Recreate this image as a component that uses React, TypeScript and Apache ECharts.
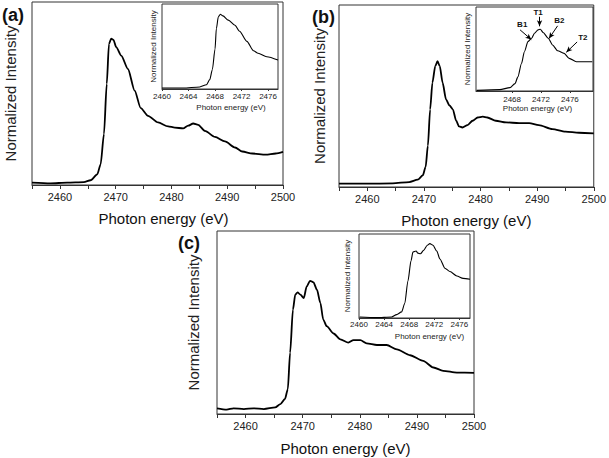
import React, { useEffect, useRef } from "react";
import * as echarts from "echarts";

// ---- Panel (a) main ----
const aMainE = [2455, 2458.3, 2461.3, 2464.3, 2465.5, 2466.7, 2467.3, 2467.9, 2468.4, 2468.8, 2469.2, 2469.6, 2470.1, 2471.0, 2472.2, 2473.4, 2474.5, 2475.8, 2477.6, 2479.4, 2480.6, 2482.1, 2483.0, 2483.9, 2484.8, 2486.0, 2487.8, 2489.6, 2491.4, 2492.7, 2494.5, 2496.9, 2498.7, 2500];
const aMainI = [0.013, 0.009, 0.013, 0.016, 0.026, 0.058, 0.113, 0.278, 0.552, 0.771, 0.8, 0.793, 0.753, 0.707, 0.634, 0.516, 0.42, 0.378, 0.342, 0.32, 0.314, 0.309, 0.324, 0.336, 0.329, 0.296, 0.263, 0.238, 0.205, 0.183, 0.172, 0.166, 0.172, 0.181];
// ---- Panel (a) inset ----
const aInsE = [2460, 2463.2, 2465.7, 2466.7, 2467.2, 2467.6, 2468.0, 2468.2, 2468.5, 2468.8, 2469.2, 2470.0, 2471.0, 2471.7, 2472.8, 2473.8, 2474.5, 2475.8, 2477.5];
const aInsI = [0.012, 0.012, 0.024, 0.05, 0.11, 0.23, 0.47, 0.71, 0.85, 0.88, 0.86, 0.81, 0.75, 0.68, 0.56, 0.45, 0.42, 0.38, 0.34];

// ---- Panel (b) main ----
const bMainE = [2455, 2459.8, 2464.5, 2467.4, 2468.9, 2469.8, 2470.3, 2470.7, 2471.1, 2471.5, 2472.0, 2472.4, 2472.8, 2473.3, 2473.9, 2474.5, 2475.1, 2475.7, 2476.2, 2476.8, 2477.7, 2478.6, 2479.5, 2480.4, 2481.2, 2482.7, 2484.5, 2486.8, 2488.6, 2490.3, 2492.7, 2495.0, 2497.4, 2500];
const bMainI = [0.018, 0.018, 0.02, 0.027, 0.04, 0.064, 0.11, 0.227, 0.427, 0.573, 0.664, 0.691, 0.664, 0.573, 0.482, 0.449, 0.427, 0.364, 0.333, 0.327, 0.34, 0.364, 0.382, 0.387, 0.382, 0.364, 0.355, 0.351, 0.351, 0.34, 0.318, 0.304, 0.298, 0.295];
// ---- Panel (b) inset ----
const bInsE = [2463.1, 2466.3, 2467.7, 2468.4, 2468.8, 2469.3, 2469.7, 2470.2, 2470.7, 2471.1, 2471.6, 2471.9, 2472.3, 2473.0, 2473.6, 2474.3, 2475.2, 2475.9, 2476.9, 2477.8, 2479.1];
const bInsI = [0.008, 0.016, 0.04, 0.088, 0.168, 0.328, 0.468, 0.588, 0.628, 0.688, 0.728, 0.736, 0.696, 0.628, 0.548, 0.48, 0.448, 0.388, 0.348, 0.348, 0.348];
// annotations of inset (b): label, label position, arrow start, arrow end
const bNoteNames = ["B1", "T1", "B2", "T2"];
const bNoteText = [[2469.4, 0.79], [2471.6, 0.94], [2474.55, 0.84], [2477.8, 0.64]];
const bNoteFrom = [[2469.1, 0.728], [2471.8, 0.884], [2474.3, 0.776], [2477.0, 0.584]];
const bNoteTo = [[2470.66, 0.612], [2471.8, 0.77], [2473.1, 0.624], [2475.5, 0.46]];

// ---- Panel (c) main ----
const cMainE = [2455, 2456.7, 2457.9, 2459.7, 2461.4, 2463.2, 2465.2, 2466.1, 2466.9, 2467.4, 2467.8, 2468.3, 2468.7, 2469.1, 2469.6, 2470.2, 2470.7, 2471.3, 2471.9, 2472.5, 2473.1, 2473.6, 2474.2, 2475.4, 2476.6, 2478.0, 2478.9, 2480.1, 2481.2, 2483.0, 2484.7, 2486.5, 2488.8, 2491.1, 2492.9, 2494.6, 2497.0, 2500];
const cMainI = [0.031, 0.024, 0.031, 0.027, 0.031, 0.027, 0.036, 0.054, 0.082, 0.136, 0.335, 0.571, 0.652, 0.665, 0.652, 0.634, 0.697, 0.728, 0.719, 0.679, 0.607, 0.516, 0.48, 0.44, 0.408, 0.39, 0.404, 0.404, 0.386, 0.377, 0.377, 0.353, 0.321, 0.29, 0.254, 0.236, 0.226, 0.225];
// ---- Panel (c) inset ----
const cInsE = [2460.1, 2462.8, 2465.2, 2466.0, 2466.8, 2467.3, 2467.8, 2468.3, 2468.6, 2469.1, 2469.4, 2469.8, 2470.3, 2470.9, 2471.3, 2471.8, 2472.4, 2472.9, 2473.7, 2474.5, 2475.6, 2476.6, 2477.7];
const cInsI = [0.012, 0.004, 0.012, 0.04, 0.073, 0.175, 0.44, 0.683, 0.785, 0.797, 0.772, 0.764, 0.805, 0.866, 0.886, 0.866, 0.797, 0.703, 0.593, 0.553, 0.5, 0.472, 0.462];

// ---- tick labels ----
const mainTicks = [2455, 2460, 2465, 2470, 2475, 2480, 2485, 2490, 2495, 2500];
const mainLabels = [2460, 2470, 2480, 2490, 2500];
const insetLabelsAC = [2460, 2464, 2468, 2472, 2476];
const insetLabelsB = [2468, 2472, 2476];

const FONT = "'Liberation Sans', Arial, sans-serif";
const zip = (xs: number[], ys: number[]) => xs.map((x, i) => [x, ys[i]]);
const plain = (v: number) => String(Math.round(v));

export default function App() {
  const ref = useRef<HTMLDivElement>(null);
  useEffect(() => {
    if (!ref.current) return;
    const chart = echarts.init(ref.current, null, { renderer: "svg" });

    const frame = "#333";
    const grids = [
      { left: 32, top: 2, width: 251, height: 183 }, // a main
      { left: 162, top: 4, width: 116, height: 85 }, // a inset
      { left: 339, top: 5, width: 256, height: 182 }, // b main
      { left: 476, top: 7, width: 117, height: 84 }, // b inset
      { left: 217, top: 231, width: 257, height: 183 }, // c main
      { left: 359, top: 234, width: 111, height: 84 }, // c inset
    ].map((g, i) => ({
      ...g,
      show: true,
      borderColor: frame,
      borderWidth: 1,
      backgroundColor: i % 2 === 1 ? "#fff" : "transparent",
      z: i % 2 === 1 ? 5 : 1,
    }));

    const mainX = (gi: number, nameGap: number, pad: number) => ({
      type: "value",
      gridIndex: gi,
      min: 2455,
      max: 2500,
      name: "Photon energy (eV)",
      nameLocation: "middle",
      nameGap,
      nameTextStyle: { fontFamily: FONT, fontSize: 15, color: "#111", padding: [0, 0, 0, pad] },
      axisLine: { show: true, lineStyle: { color: frame, width: 1 } },
      axisTick: { show: true, inside: false, length: 4, customValues: mainTicks, lineStyle: { color: frame } },
      axisLabel: { show: true, fontFamily: FONT, fontSize: 11, color: "#222", margin: 6, customValues: mainLabels, formatter: plain },
      splitLine: { show: false },
    });
    const insetX = (gi: number, min: number, max: number, labels: number[], nameGap: number, pad: number, margin: number) => ({
      type: "value",
      gridIndex: gi,
      min,
      max,
      name: "Photon energy (eV)",
      nameLocation: "middle",
      nameGap,
      nameTextStyle: { fontFamily: FONT, fontSize: 8, color: "#222", padding: [0, 0, 0, pad] },
      axisLine: { show: true, lineStyle: { color: frame, width: 1 } },
      axisTick: { show: true, inside: false, length: 2, customValues: labels, lineStyle: { color: frame } },
      axisLabel: { show: true, fontFamily: FONT, fontSize: 8, color: "#222", margin: margin, customValues: labels, formatter: plain },
      splitLine: { show: false },
    });
    const yAx = (gi: number, fontSize: number, nameGap: number) => ({
      type: "value",
      gridIndex: gi,
      min: 0,
      max: 1,
      name: "Normalized Intensity",
      nameLocation: "middle",
      nameGap,
      nameTextStyle: { fontFamily: FONT, fontSize, color: "#222" },
      axisLine: { show: false },
      axisTick: { show: false },
      axisLabel: { show: false },
      splitLine: { show: false },
    });

    const line = (idx: number, data: number[][], width: number, extra: any = {}) => ({
      type: "line",
      xAxisIndex: idx,
      yAxisIndex: idx,
      data,
      showSymbol: false,
      symbol: "none",
      smooth: 0.25,
      smoothMonotone: "x",
      lineStyle: { color: "#000", width },
      z: idx % 2 === 1 ? 6 : 2,
      ...extra,
    });

    const notes = {
      markLine: {
        silent: true,
        symbol: ["none", "arrow"],
        symbolSize: [4, 6],
        label: { show: false },
        lineStyle: { color: "#000", width: 1, type: "solid" },
        data: bNoteFrom.map((f, i) => [{ coord: f }, { coord: bNoteTo[i] }]),
      },
      markPoint: {
        silent: true,
        symbol: "circle",
        symbolSize: 1,
        itemStyle: { color: "rgba(0,0,0,0)" },
        label: { show: true, position: "inside", formatter: "{b}", fontFamily: FONT, fontSize: 8, fontWeight: "bold", color: "#111" },
        data: bNoteNames.map((n, i) => ({ name: n, coord: bNoteText[i] })),
      },
    };

    chart.setOption({
      animation: false,
      backgroundColor: "#fff",
      grid: grids,
      xAxis: [
        mainX(0, 26, 12),
        insetX(1, 2460, 2477.5, insetLabelsAC, 14, 22, 3),
        mainX(2, 26, 0),
        insetX(3, 2463, 2479.2, insetLabelsB, 13, 6, 4),
        mainX(4, 27, 0),
        insetX(5, 2460, 2477.7, insetLabelsAC, 14, 30, 2),
      ],
      yAxis: [yAx(0, 15, 14), yAx(1, 8, 5), yAx(2, 15, 12), yAx(3, 8, 5), yAx(4, 15, 16), yAx(5, 8, 8)],
      series: [
        line(0, zip(aMainE, aMainI), 1.8),
        line(1, zip(aInsE, aInsI), 1.1),
        line(2, zip(bMainE, bMainI), 1.8),
        line(3, zip(bInsE, bInsI), 1.1, notes),
        line(4, zip(cMainE, cMainI), 1.8),
        line(5, zip(cInsE, cInsI), 1.1),
      ],
      graphic: [
        { type: "text", left: 2, top: 6, style: { text: "(a)", font: `bold 18px ${FONT}`, fill: "#111" } },
        { type: "text", left: 312, top: 8, style: { text: "(b)", font: `bold 18px ${FONT}`, fill: "#111" } },
        { type: "text", left: 178, top: 234, style: { text: "(c)", font: `bold 18px ${FONT}`, fill: "#111" } },
      ],
    });
    return () => chart.dispose();
  }, []);
  return <div ref={ref} style={{ position: "absolute", left: 0, top: 0, width: 609, height: 458 }} />;
}
